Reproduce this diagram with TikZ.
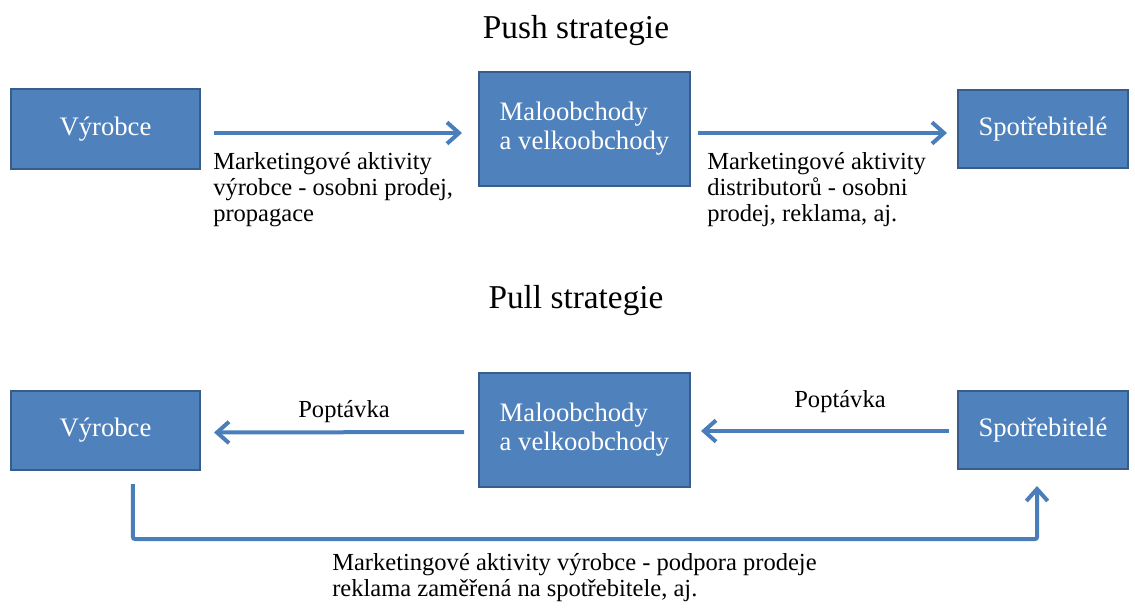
\documentclass[tikz,border=0pt]{standalone}
\usepackage{fontspec}
\setmainfont{Liberation Serif}
\usetikzlibrary{arrows.meta,calc}
\definecolor{boxfill}{HTML}{4F81BD}
\definecolor{boxline}{HTML}{385D8A}
\definecolor{arrowc}{HTML}{4A7EBB}
\begin{document}
\begin{tikzpicture}[x=0.75pt,y=-0.75pt,
  box/.style={draw=boxline, line width=1.5pt, fill=boxfill, text=white,
    font=\fontsize{20}{21.75}\selectfont, inner sep=0pt, align=left},
  sz/.style 2 args={minimum width=#1*0.75pt, minimum height=#2*0.75pt},
  conn/.style={draw=arrowc, line width=3pt, -{Straight Barb[length=9pt,width=16pt]}},
  lbl/.style={font=\fontsize{18.4}{19.5}\selectfont, align=left, inner sep=0pt, anchor=north west},
  ttl/.style={font=\fontsize{25}{28}\selectfont, inner sep=0pt}]
\useasboundingbox[fill=white] (0,0) rectangle (1135,607);

% titles
\node[ttl] (t1) at (576,31) {Push strategie};
\node[ttl] (t2) at (576,301) {Pull strategie};

% push row
\node[box, sz={189}{80}] (v1) at (105.5,129) {Výrobce};
\node[box, sz={211}{114}] (m1) at (584.5,129) {Maloobchody\\a velkoobchody};
\node[box, sz={170}{78}] (s1) at (1043,129) {Spotřebitelé};

\draw[conn, shorten <=9.75pt, shorten >=12pt] ([yshift=-3pt]v1.east) -- ([yshift=-3pt]m1.west);
\draw[conn, shorten <=5.25pt, shorten >=7.5pt] ([yshift=-3pt]m1.east) -- ([yshift=-3pt]s1.west);

\node[lbl] (l1) at (213,152) {Marketingové aktivity\\výrobce - osobni prodej,\\propagace};
\node[lbl] (l2) at (707,152) {Marketingové aktivity\\distributorů - osobni\\prodej, reklama, aj.};

% pull row
\node[box, sz={189}{79}] (v2) at (105.5,430.5) {Výrobce};
\node[box, sz={211}{114}] (m2) at (584.5,430) {Maloobchody\\a velkoobchody};
\node[box, sz={170}{78}] (s2) at (1043,430) {Spotřebitelé};

\draw[conn, shorten <=10.5pt, shorten >=9.75pt] ([yshift=-1.5pt]m2.west) -- ([yshift=-1.5pt]v2.east);
\draw[conn, shorten <=6pt, shorten >=7.5pt] ([yshift=-0.75pt]s2.west) -- ([yshift=-0.75pt]m2.east);

\node[lbl, anchor=center] (p1) at (344,412) {Poptávka};
\node[lbl, anchor=center] (p2) at (840,402) {Poptávka};

\draw[conn, rounded corners=1.5pt, shorten <=9.75pt, shorten >=12pt]
  ([xshift=20.6pt]v2.south) -- ++(0,68) -| ([xshift=-4.5pt]s2.south);

\node[lbl] (l3) at (332,553) {Marketingové aktivity výrobce - podpora prodeje\\reklama zaměřená na spotřebitele, aj.};
\end{tikzpicture}
\end{document}
